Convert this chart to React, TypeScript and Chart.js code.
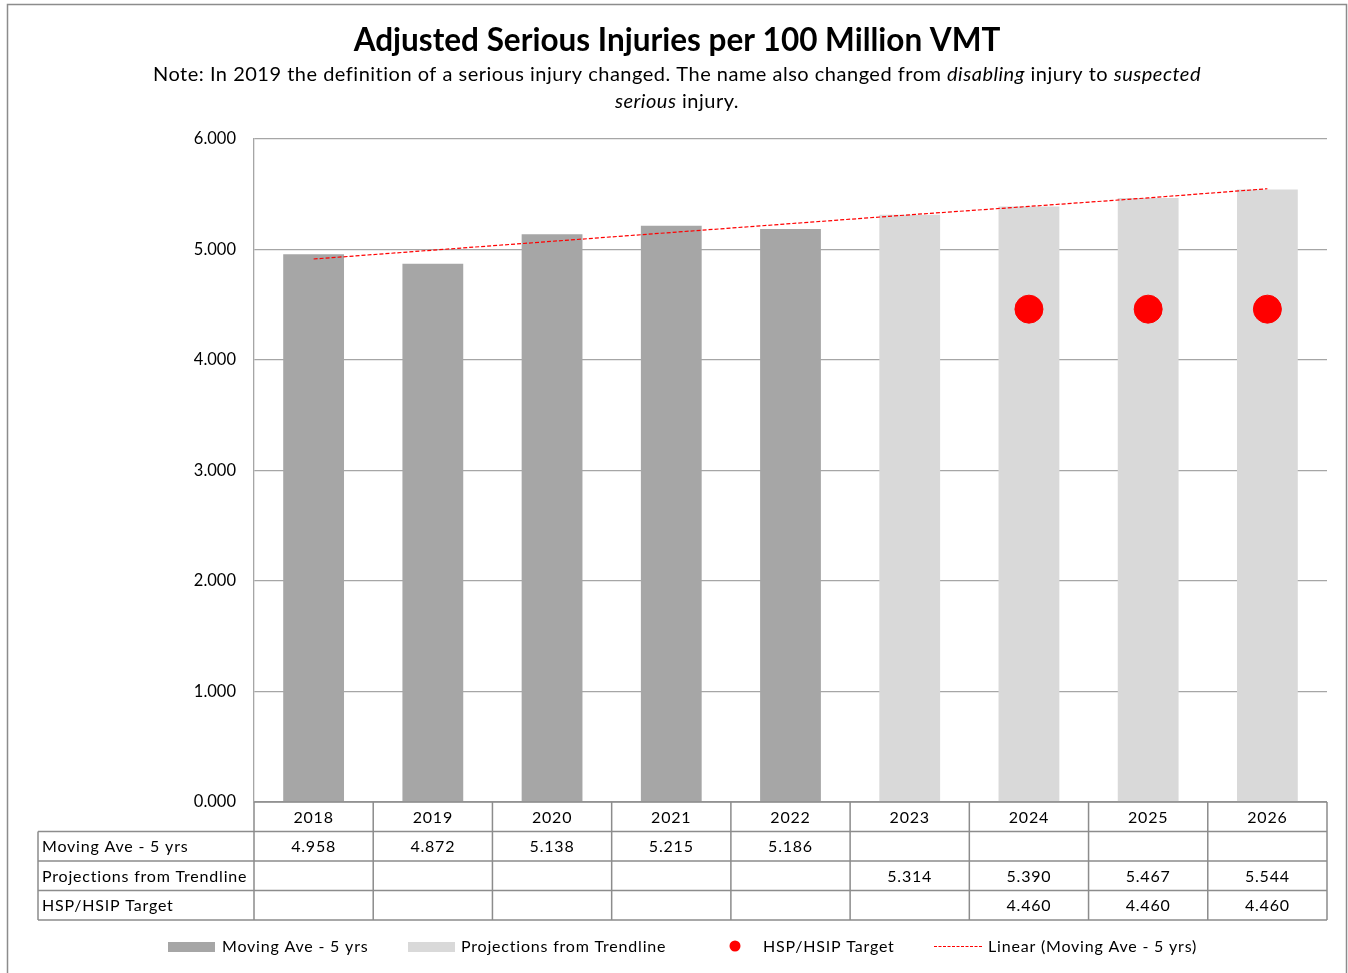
import React, { useEffect, useRef } from "react";
import { Chart, registerables } from "chart.js";

Chart.register(...registerables);

const years = ["2018", "2019", "2020", "2021", "2022", "2023", "2024", "2025", "2026"];
const movingAve: (number | null)[] = [4.958, 4.872, 5.138, 5.215, 5.186, null, null, null, null];
const projections: (number | null)[] = [null, null, null, null, null, 5.314, 5.39, 5.467, 5.544];
const targets: (number | null)[] = [null, null, null, null, null, null, 4.46, 4.46, 4.46];
const trendline: number[] = [4.914, 4.994, 5.074, 5.154, 5.234, 5.314, 5.39, 5.467, 5.55];

const seriesNames = ["Moving Ave - 5 yrs", "Projections from Trendline", "HSP/HSIP Target", "Linear (Moving Ave - 5 yrs)"];
const titleText = "Adjusted Serious Injuries per 100 Million VMT";
const noteLine1: [string, boolean][] = [
  ["Note: In 2019 the definition of a serious injury changed. The name also changed from ", false],
  ["disabling", true],
  [" injury to ", false],
  ["suspected", true],
];
const noteLine2: [string, boolean][] = [
  ["serious", true],
  [" injury.", false],
];

const FONT = "Lato, 'Open Sans', sans-serif";
const DARK = "#a6a6a6";
const LIGHT = "#d9d9d9";
const RED = "#ff0000";
const GRID = "#a6a6a6";
const TABLE_LINE = "#8c8c8c";

const fmt = (v: number | null) => (v == null ? "" : v.toFixed(3));

function drawMixed(ctx: CanvasRenderingContext2D, parts: [string, boolean][], cx: number, y: number, size: number) {
  let total = 0;
  const widths = parts.map(([t, it]) => {
    ctx.font = `${it ? "italic " : ""}${size}px ${FONT}`;
    const w = ctx.measureText(t).width;
    total += w;
    return w;
  });
  let x = cx - total / 2;
  ctx.textAlign = "left";
  ctx.textBaseline = "middle";
  parts.forEach(([t, it], i) => {
    ctx.font = `${it ? "italic " : ""}${size}px ${FONT}`;
    ctx.fillText(t, x, y);
    x += widths[i];
  });
}

const overlayPlugin = {
  id: "overlay",
  afterDraw(chart: any) {
    const ctx: any = chart.ctx;
    const area = chart.chartArea;
    const xs = chart.scales.x;
    const n = years.length;
    const colW = (area.right - area.left) / n;
    ctx.save();

    // outer border
    ctx.strokeStyle = "#8c8c8c";
    ctx.lineWidth = 1.5;
    ctx.strokeRect(7.5, 4.5, 1339, 980);

    // title
    ctx.fillStyle = "#000";
    ctx.letterSpacing = "0px";
    ctx.font = `bold 31.5px ${FONT}`;
    ctx.textAlign = "center";
    ctx.textBaseline = "middle";
    ctx.fillText(titleText, 677, 41);
    ctx.letterSpacing = "0.5px";
    drawMixed(ctx, noteLine1, 677, 75, 20);
    drawMixed(ctx, noteLine2, 677, 102, 20);

    // data table
    const rowH = 29.5;
    const top = area.bottom;
    const labelLeft = 38;
    ctx.strokeStyle = TABLE_LINE;
    ctx.lineWidth = 1.5;
    ctx.beginPath();
    ctx.moveTo(area.left, top);
    ctx.lineTo(area.right, top);
    for (let r = 1; r <= 4; r++) {
      const y = top + r * rowH;
      ctx.moveTo(labelLeft, y);
      ctx.lineTo(area.right, y);
    }
    ctx.moveTo(labelLeft, top + rowH);
    ctx.lineTo(labelLeft, top + 4 * rowH);
    for (let i = 0; i <= n; i++) {
      const x = i < n ? xs.getPixelForValue(i) - colW / 2 : xs.getPixelForValue(n - 1) + colW / 2;
      ctx.moveTo(x, top);
      ctx.lineTo(x, top + 4 * rowH);
    }
    ctx.stroke();

    ctx.letterSpacing = "0.8px";
    ctx.fillStyle = "#000";
    ctx.font = `16px ${FONT}`;
    ctx.textBaseline = "middle";
    ctx.textAlign = "center";
    years.forEach((yr, i) => ctx.fillText(yr, xs.getPixelForValue(i), top + rowH / 2 + 1));
    const rows: [string, (number | null)[]][] = [
      [seriesNames[0], movingAve],
      [seriesNames[1], projections],
      [seriesNames[2], targets],
    ];
    rows.forEach(([label, vals], r) => {
      const cy = top + (r + 1) * rowH + rowH / 2 + 1;
      ctx.textAlign = "left";
      ctx.fillText(label, labelLeft + 4, cy);
      ctx.textAlign = "center";
      vals.forEach((v, i) => ctx.fillText(fmt(v), xs.getPixelForValue(i), cy));
    });

    // legend
    const ly = 947;
    ctx.font = `16px ${FONT}`;
    ctx.textAlign = "left";
    ctx.fillStyle = DARK;
    ctx.fillRect(168, ly - 5, 47, 10);
    ctx.fillStyle = "#000";
    ctx.fillText(seriesNames[0], 222, ly);
    ctx.fillStyle = LIGHT;
    ctx.fillRect(408, ly - 5, 47, 10);
    ctx.fillStyle = "#000";
    ctx.fillText(seriesNames[1], 461, ly);
    ctx.fillStyle = RED;
    ctx.beginPath();
    ctx.arc(735, ly - 1, 5.5, 0, Math.PI * 2);
    ctx.fill();
    ctx.fillStyle = "#000";
    ctx.fillText(seriesNames[2], 763, ly);
    ctx.strokeStyle = RED;
    ctx.lineWidth = 1;
    ctx.setLineDash([3, 1.5]);
    ctx.beginPath();
    ctx.moveTo(934, ly - 0.5);
    ctx.lineTo(982, ly - 0.5);
    ctx.stroke();
    ctx.setLineDash([]);
    ctx.fillStyle = "#000";
    ctx.fillText(seriesNames[3], 988, ly);

    ctx.restore();
  },
};

export default function App() {
  const ref = useRef<HTMLCanvasElement | null>(null);
  useEffect(() => {
    if (!ref.current) return;
    const chart = new Chart(ref.current, {
      type: "bar",
      data: {
        labels: years,
        datasets: [
          {
            type: "line",
            label: seriesNames[3],
            data: trendline,
            borderColor: RED,
            borderWidth: 1.2,
            borderDash: [4, 2],
            pointRadius: 0,
            fill: false,
            order: 0,
          } as any,
          {
            type: "line",
            label: seriesNames[2],
            data: targets,
            showLine: false,
            pointRadius: 14,
            pointBackgroundColor: RED,
            pointBorderColor: RED,
            order: 1,
          } as any,
          {
            type: "bar",
            label: seriesNames[0],
            data: movingAve,
            backgroundColor: DARK,
            grouped: false,
            barPercentage: 0.51,
            categoryPercentage: 1,
            order: 2,
          } as any,
          {
            type: "bar",
            label: seriesNames[1],
            data: projections,
            backgroundColor: LIGHT,
            grouped: false,
            barPercentage: 0.51,
            categoryPercentage: 1,
            order: 3,
          } as any,
        ],
      },
      options: {
        responsive: false,
        animation: false,
        layout: { padding: { top: 139, right: 21, bottom: 171, left: 0 } },
        plugins: {
          legend: { display: false },
          title: { display: false },
          tooltip: { enabled: false },
        },
        scales: {
          x: { display: false, offset: true },
          y: {
            min: 0,
            max: 6,
            ticks: {
              stepSize: 1,
              padding: 18,
              color: "#000",
              font: { family: FONT, size: 16.5 },
              callback: (v: any) => Number(v).toFixed(3),
            },
            grid: { color: GRID, lineWidth: 1.3, drawTicks: false },
            border: { color: GRID, width: 1.3 },
            afterFit: (s: any) => {
              s.width = 254;
            },
          },
        },
      } as any,
      plugins: [overlayPlugin],
    });
    return () => chart.destroy();
  }, []);
  return (
    <div style={{ position: "absolute", left: 0, top: 0, width: 1348, height: 973, background: "#fff" }}>
      <canvas ref={ref} width={1348} height={973} style={{ display: "block" }} />
    </div>
  );
}
